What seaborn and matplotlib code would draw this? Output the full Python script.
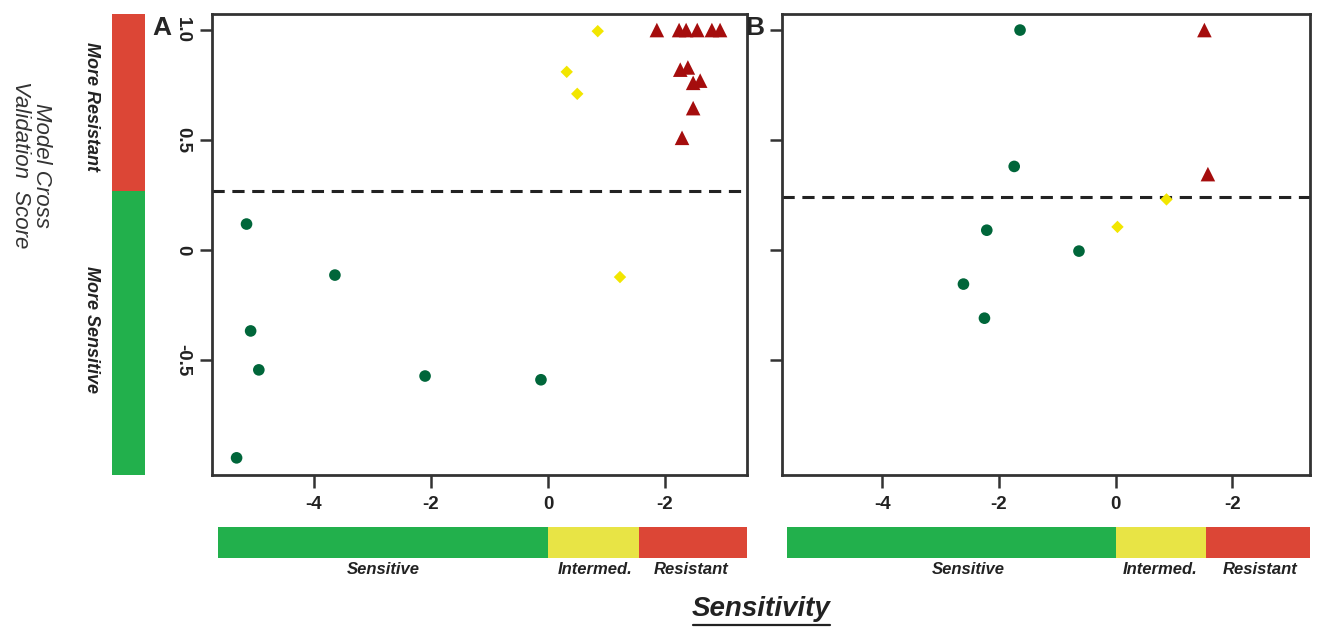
import numpy as np
import pandas as pd
import matplotlib
matplotlib.use("Agg")
import matplotlib.pyplot as plt
import seaborn as sns

sns.set_style("white")
plt.rcParams['font.family'] = ['Liberation Sans', 'DejaVu Sans']

# ---- data ----
a_sens_x = [-5.15, -3.64, -5.08, -4.94, -2.10, -0.12, -5.32]
a_sens_y = [0.118, -0.114, -0.368, -0.545, -0.573, -0.59, -0.945]
a_int_x = [0.85, 0.32, 0.50, 1.23]
a_int_y = [0.995, 0.81, 0.71, -0.123]
a_res_x = [1.86, 2.24, 2.36, 2.55, 2.80, 2.94, 2.26, 2.39, 2.48, 2.60, 2.48, 2.29]
a_res_y = [1.0, 1.0, 1.0, 1.0, 1.0, 1.0, 0.82, 0.83, 0.76, 0.77, 0.645, 0.51]

b_sens_x = [-1.64, -1.74, -2.21, -0.63, -2.61, -2.25]
b_sens_y = [1.0, 0.38, 0.09, -0.005, -0.155, -0.31]
b_int_x = [0.03, 0.87]
b_int_y = [0.105, 0.23]
b_res_x = [1.52, 1.58]
b_res_y = [1.0, 0.345]

a_threshold = 0.268
b_threshold = 0.24

x_ticks = [-4, -2, 0, 2]
x_ticklabels = ['-4', '-2', '0', '-2']
y_ticks = [1.0, 0.5, 0.0, -0.5]
y_ticklabels = ['1.0', '0.5', '0', '-0.5']

band_names = ['Sensitive', 'Intermed.', 'Resistant']
band_edges = [-5.64, 0.0, 1.56, 3.40]
b_band_edges = [-5.64, 0.0, 1.55, 3.35]

classes = ['Sensitive', 'Intermed.', 'Resistant']
marker_colors = {'Sensitive': '#00663a', 'Intermed.': '#f2e600', 'Resistant': '#a50d0d'}
marker_shapes = {'Sensitive': 'o', 'Intermed.': 'D', 'Resistant': '^'}
marker_sizes = {'Sensitive': 70, 'Intermed.': 40, 'Resistant': 110}
band_colors = ['#22b04c', '#e8e445', '#dc4636']


def make_df(sx, sy, ix, iy, rx, ry):
    return pd.DataFrame({
        'x': sx + ix + rx,
        'y': sy + iy + ry,
        'cls': ['Sensitive'] * len(sx) + ['Intermed.'] * len(ix) + ['Resistant'] * len(rx),
    })


df_a = make_df(a_sens_x, a_sens_y, a_int_x, a_int_y, a_res_x, a_res_y)
df_b = make_df(b_sens_x, b_sens_y, b_int_x, b_int_y, b_res_x, b_res_y)

W, H = 1319, 628
fig = plt.figure(figsize=(W / 100, H / 100), dpi=100)


def px_axes(x0, x1, y0, y1):
    return fig.add_axes([x0 / W, 1 - y1 / H, (x1 - x0) / W, (y1 - y0) / H])


XLIM_A = (-5.74, 3.40)
XLIM_B = (-5.72, 3.33)
YLIM = (-1.023, 1.073)

ax_a = px_axes(212, 747, 14, 475)
ax_b = px_axes(782, 1310, 14, 475)

for ax, df, thr, xlim in [(ax_a, df_a, a_threshold, XLIM_A), (ax_b, df_b, b_threshold, XLIM_B)]:
    for c in classes:
        sub = df[df['cls'] == c]
        sns.scatterplot(data=sub, x='x', y='y', ax=ax, color=marker_colors[c],
                        marker=marker_shapes[c], s=marker_sizes[c], edgecolor='none',
                        legend=False, zorder=3)
    ax.axhline(thr, color='#222222', lw=2.2, ls=(0, (4, 2.5)), zorder=2)
    ax.set_xlim(*xlim)
    ax.set_ylim(*YLIM)
    ax.set_xlabel('')
    ax.set_ylabel('')
    ax.set_xticks(x_ticks)
    ax.set_xticklabels(x_ticklabels, fontsize=13.5, fontweight='bold', color='#222222')
    ax.set_yticks(y_ticks)
    for sp in ax.spines.values():
        sp.set_color('#333333')
        sp.set_linewidth(2)
    ax.tick_params(axis='both', direction='out', length=9, width=1.8, color='#333333',
                   pad=6, bottom=True, left=True)

ax_a.set_yticklabels(y_ticklabels, fontsize=13.5, fontweight='bold', color='#222222',
                     rotation=-90, va='center')
ax_b.set_yticklabels([])

# panel letters
fig.text(162 / W, 1 - 28 / H, 'A', fontsize=19, fontweight='bold', ha='center', va='center')
fig.text(755 / W, 1 - 28 / H, 'B', fontsize=19, fontweight='bold', ha='center', va='center')

# left vertical color bar
ax_l = px_axes(112, 145, 14, 475)
ax_l.set_ylim(*YLIM)
ax_l.set_xlim(0, 1)
ax_l.axhspan(YLIM[0], a_threshold, color='#22b04c', lw=0)
ax_l.axhspan(a_threshold, YLIM[1], color='#dc4636', lw=0)
ax_l.axis('off')
fig.text(91 / W, 1 - 107 / H, 'More Resistant', rotation=-90, fontsize=13,
         fontweight='bold', style='italic', ha='center', va='center', color='#222222')
fig.text(91 / W, 1 - 330 / H, 'More Sensitive', rotation=-90, fontsize=13,
         fontweight='bold', style='italic', ha='center', va='center', color='#222222')
fig.text(31 / W, 1 - 165 / H, 'Model Cross\nValidation  Score', rotation=-90, fontsize=16,
         style='italic', ha='center', va='center', color='#333333', linespacing=1.0)

# bottom color bars
for (x0, x1, xlim, edges, label_px) in [
        (212, 747, XLIM_A, band_edges, [383, 595, 691]),
        (782, 1310, XLIM_B, b_band_edges, [968, 1160, 1260])]:
    axb = px_axes(x0, x1, 527, 558)
    axb.set_xlim(*xlim)
    axb.set_ylim(0, 1)
    for i in range(3):
        axb.axvspan(edges[i], edges[i + 1], color=band_colors[i], lw=0)
    axb.axis('off')
    for name, lx in zip(band_names, label_px):
        fig.text(lx / W, 1 - 570 / H, name, fontsize=12, fontweight='bold', style='italic',
                 ha='center', va='center', color='#222222')

t = fig.text(761 / W, 1 - 609 / H, 'Sensitivity', fontsize=20, fontweight='bold',
             style='italic', ha='center', va='center', color='#222222')
fig.add_artist(plt.Line2D([693 / W, 830 / W], [1 - 625 / H, 1 - 625 / H],
                          color='#222222', lw=1.6))

fig.savefig('out.png', dpi=100, facecolor='white')
